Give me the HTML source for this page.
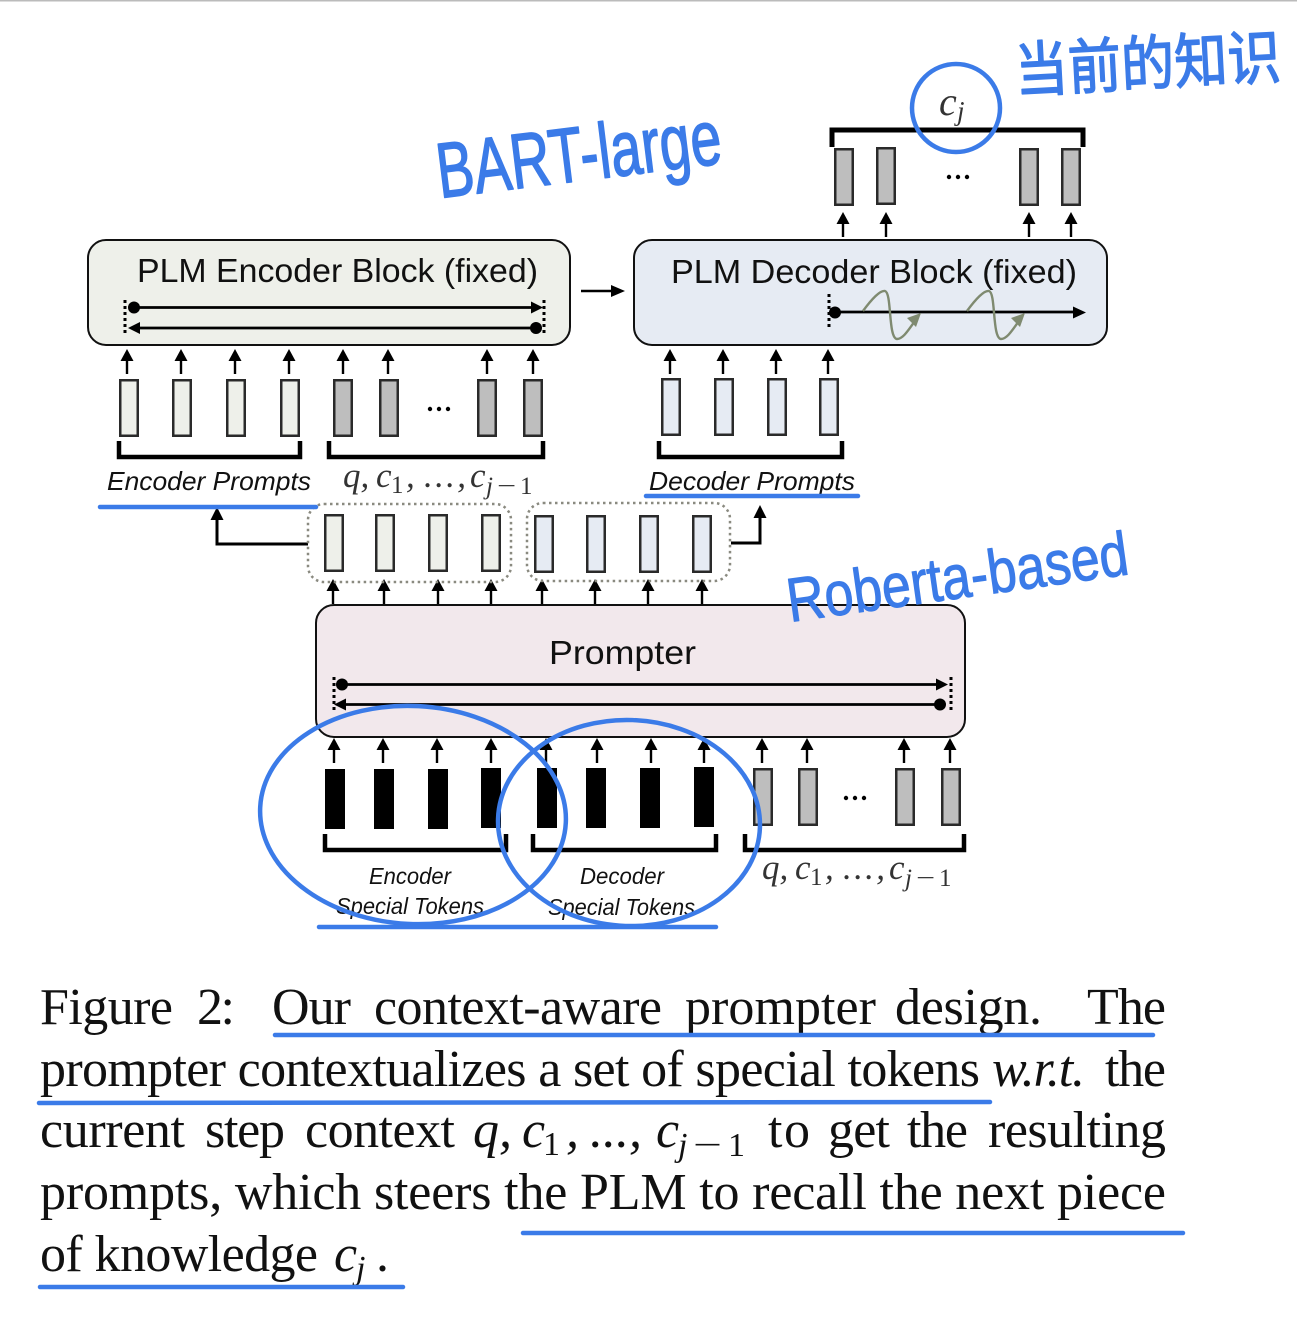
<!DOCTYPE html>
<html><head><meta charset="utf-8"><style>
html,body{margin:0;padding:0;background:#fff}
svg{display:block}
.c{font-family:"Liberation Serif",serif;font-size:52px;fill:#111}
.i{font-style:italic}
.s{font-size:34px}
.m{font-family:"Liberation Serif",serif;font-style:italic;fill:#333;font-size:35px}
.u{font-family:"Liberation Serif",serif;fill:#333;font-size:25px}
.l{font-family:"Liberation Sans",sans-serif;fill:#111}
.h{font-family:"Liberation Sans","WenQuanYi Zen Hei",sans-serif;fill:#3b7be8;stroke:#3b7be8;stroke-linejoin:round}
</style></head><body>
<svg width="1297" height="1322" viewBox="0 0 1297 1322" xmlns="http://www.w3.org/2000/svg">
<defs>
<g id="a"><path d="M0 0V-15" stroke="#000" stroke-width="2.400" fill="none"/><path d="M-6.500 -13L0 -25L6.500 -13Z" fill="#000"/></g>
<rect id="r" x="1.250" y="1.250" width="17.500" height="55.500" stroke="#2a2a2a" stroke-width="2.500"/>
<rect id="k" width="20" height="60" fill="#000"/>
</defs>
<rect width="1297" height="1322" fill="#fff"/>
<rect width="1297" height="1.500" fill="#bbb"/>

<!-- blocks -->
<rect x="88" y="240" width="482" height="105" rx="18" fill="#eef0ea" stroke="#111" stroke-width="2"/>
<rect x="634" y="240" width="473" height="105" rx="18" fill="#e6ebf3" stroke="#111" stroke-width="2"/>
<rect x="316" y="605" width="649" height="132" rx="18" fill="#f2e8ec" stroke="#111" stroke-width="2"/>
<text class="l" x="137" y="282" font-size="33" textLength="401" lengthAdjust="spacingAndGlyphs">PLM Encoder Block (fixed)</text>
<text class="l" x="671" y="283" font-size="33" textLength="406" lengthAdjust="spacingAndGlyphs">PLM Decoder Block (fixed)</text>
<text class="l" x="549" y="664" font-size="33" textLength="147" lengthAdjust="spacingAndGlyphs">Prompter</text>

<!-- inner lines -->
<g stroke="#000" fill="none">
<path d="M125 300V336M544 300V336" stroke-width="3" stroke-dasharray="3 3"/>
<path d="M134 307.500H535M137 328H536" stroke-width="2.800"/>
<path d="M342 684.500H940M345 704.500H940" stroke-width="2.800"/>
<path d="M334 677V712M951 677V712" stroke-width="3" stroke-dasharray="3 3"/>
<path d="M829 294V330" stroke-width="3" stroke-dasharray="3 3"/>
<path d="M835 312H1075" stroke-width="2.800"/>
<path d="M581 291H612" stroke-width="2.600"/>
<path d="M308 544H217V518M731 543H760V516" stroke-width="3"/>
</g>
<g fill="#000">
<circle cx="134" cy="307.500" r="6"/><circle cx="536" cy="328" r="6"/>
<path d="M543 307.500L531 301.500V313.500ZM128 328L140 322V334Z"/>
<circle cx="342" cy="684.500" r="6"/><circle cx="940" cy="704.500" r="6"/>
<path d="M948 684.500L936 678.500V690.500ZM334 704.500L346 698.500V710.500Z"/>
<circle cx="835" cy="312.500" r="6"/>
<path d="M1086 312.500L1073 306.500V318.500ZM625 291L611 285V297ZM217 507L210.500 520H223.500ZM760 505L753.500 518H766.500Z"/>
</g>
<g fill="none" stroke="#7f8a70" stroke-width="2.400">
<path d="M863 311C871 300 880 290 885 291C892 293 888 338 897 339C904 339 910 327 918 317"/>
<path d="M967 311C975 300 984 290 989 291C996 293 992 338 1001 339C1008 339 1014 327 1022 317"/>
</g>
<path fill="#7f8a70" d="M921 313L907 318L916 327ZM1025 313L1011 318L1020 327Z"/>

<!-- arrows -->
<g>
<use href="#a" x="843" y="237"/><use href="#a" x="886" y="237"/><use href="#a" x="1029" y="237"/><use href="#a" x="1071" y="237"/>
<use href="#a" x="127" y="374"/><use href="#a" x="181" y="374"/><use href="#a" x="235" y="374"/><use href="#a" x="289" y="374"/><use href="#a" x="343" y="374"/><use href="#a" x="388" y="374"/><use href="#a" x="487" y="374"/><use href="#a" x="533" y="374"/>
<use href="#a" x="670" y="374"/><use href="#a" x="723" y="374"/><use href="#a" x="776" y="374"/><use href="#a" x="828" y="374"/>
<use href="#a" x="333" y="604"/><use href="#a" x="384" y="604"/><use href="#a" x="438" y="604"/><use href="#a" x="491" y="604"/><use href="#a" x="542" y="604"/><use href="#a" x="595" y="604"/><use href="#a" x="648" y="604"/><use href="#a" x="702" y="604"/>
<use href="#a" x="334" y="763"/><use href="#a" x="383" y="763"/><use href="#a" x="437" y="763"/><use href="#a" x="491" y="763"/><use href="#a" x="546" y="763"/><use href="#a" x="597" y="763"/><use href="#a" x="651" y="763"/><use href="#a" x="704" y="763"/><use href="#a" x="762" y="763"/><use href="#a" x="807" y="763"/><use href="#a" x="904" y="763"/><use href="#a" x="950" y="763"/>
</g>

<!-- token bars -->
<g fill="#bebebe">
<use href="#r" x="834" y="148"/><use href="#r" x="876" y="147"/><use href="#r" x="1019" y="148"/><use href="#r" x="1061" y="148"/>
<use href="#r" x="333" y="379"/><use href="#r" x="379" y="379"/><use href="#r" x="477" y="379"/><use href="#r" x="523" y="379"/>
<use href="#r" x="753" y="768"/><use href="#r" x="798" y="768"/><use href="#r" x="895" y="768"/><use href="#r" x="941" y="768"/>
</g>
<g fill="#eef0ea">
<use href="#r" x="119" y="379"/><use href="#r" x="172" y="379"/><use href="#r" x="226" y="379"/><use href="#r" x="280" y="379"/>
<use href="#r" x="324" y="514"/><use href="#r" x="375" y="514"/><use href="#r" x="428" y="514"/><use href="#r" x="481" y="514"/>
</g>
<g fill="#e6ebf3">
<use href="#r" x="661" y="378"/><use href="#r" x="714" y="378"/><use href="#r" x="767" y="378"/><use href="#r" x="819" y="378"/>
<use href="#r" x="534" y="515"/><use href="#r" x="586" y="515"/><use href="#r" x="639" y="515"/><use href="#r" x="692" y="515"/>
</g>
<use href="#k" x="325" y="769"/><use href="#k" x="374" y="769"/><use href="#k" x="428" y="769"/><use href="#k" x="481" y="768"/>
<use href="#k" x="537" y="768"/><use href="#k" x="586" y="768"/><use href="#k" x="640" y="768"/><use href="#k" x="694" y="767"/>

<!-- dotted groups -->
<g fill="none" stroke="#8a8a80" stroke-width="2.500" stroke-dasharray="2.500 3.500">
<rect x="308" y="504" width="203" height="78" rx="16"/>
<rect x="527" y="503" width="203" height="78" rx="16"/>
</g>

<!-- brackets -->
<g fill="none" stroke="#000" stroke-width="4.500">
<path d="M832 147V130H1083V147" stroke-width="5"/>
<path d="M119 441V457H300V441M329 441V457H543V441M659 441V457H842V441"/>
<path d="M325 834V850H506V834M533 834V850H716V834M745 834V850H964V834"/>
</g>
<g fill="#000">
<circle cx="949" cy="177" r="2.200"/><circle cx="958" cy="177" r="2.200"/><circle cx="967" cy="177" r="2.200"/>
<circle cx="430" cy="409" r="2.200"/><circle cx="439" cy="409" r="2.200"/><circle cx="448" cy="409" r="2.200"/>
<circle cx="846" cy="798" r="2.200"/><circle cx="855" cy="798" r="2.200"/><circle cx="864" cy="798" r="2.200"/>
</g>

<!-- figure labels -->
<text class="l" font-style="italic" font-size="26" x="107" y="490" textLength="204" lengthAdjust="spacingAndGlyphs">Encoder Prompts</text>
<text class="l" font-style="italic" font-size="26" x="649" y="490" textLength="206" lengthAdjust="spacingAndGlyphs">Decoder Prompts</text>
<text class="l" font-style="italic" font-size="23" x="369" y="884" textLength="82" lengthAdjust="spacingAndGlyphs">Encoder</text>
<text class="l" font-style="italic" font-size="23" x="336" y="914" textLength="148" lengthAdjust="spacingAndGlyphs">Special Tokens</text>
<text class="l" font-style="italic" font-size="23" x="580" y="884" textLength="84" lengthAdjust="spacingAndGlyphs">Decoder</text>
<text class="l" font-style="italic" font-size="23" x="548" y="915" textLength="147" lengthAdjust="spacingAndGlyphs">Special Tokens</text>

<text class="m" x="343" y="487">q,</text><text class="m" x="376" y="487">c</text><text class="u" x="391" y="493">1</text><text class="m" x="406" y="487">,</text><text class="m" x="424" y="487" textLength="42" lengthAdjust="spacing">...,</text><text class="m" x="470" y="487">c</text><text class="u i" x="486" y="494">j</text><text class="u" x="497" y="494" textLength="19" lengthAdjust="spacingAndGlyphs">−</text><text class="u" x="520" y="494">1</text>
<text class="m" x="762" y="879">q,</text><text class="m" x="795" y="879">c</text><text class="u" x="810" y="885">1</text><text class="m" x="825" y="879">,</text><text class="m" x="843" y="879" textLength="42" lengthAdjust="spacing">...,</text><text class="m" x="889" y="879">c</text><text class="u i" x="905" y="886">j</text><text class="u" x="916" y="886" textLength="19" lengthAdjust="spacingAndGlyphs">−</text><text class="u" x="939" y="886">1</text>
<text class="m" x="939" y="115" style="font-size:40px">c</text><text class="u i" x="957" y="120" style="font-size:27px">j</text>

<!-- caption -->
<text class="c" x="40" y="1024" textLength="133" lengthAdjust="spacing">Figure</text>
<text class="c" x="197" y="1024" textLength="38" lengthAdjust="spacing">2:</text>
<text class="c" x="272" y="1024" textLength="79" lengthAdjust="spacing">Our</text>
<text class="c" x="374" y="1024" textLength="288" lengthAdjust="spacing">context-aware</text>
<text class="c" x="685" y="1024" textLength="191" lengthAdjust="spacing">prompter</text>
<text class="c" x="895" y="1024" textLength="147" lengthAdjust="spacing">design.</text>
<text class="c" x="1087" y="1024" textLength="79" lengthAdjust="spacing">The</text>
<text class="c" x="40" y="1086" textLength="940" lengthAdjust="spacing">prompter contextualizes a set of special tokens</text>
<text class="c i" x="992" y="1086" textLength="93" lengthAdjust="spacing">w.r.t.</text>
<text class="c" x="1105" y="1086" textLength="61" lengthAdjust="spacing">the</text>
<text class="c" x="40" y="1147" textLength="145" lengthAdjust="spacing">current</text>
<text class="c" x="205" y="1147" textLength="80" lengthAdjust="spacing">step</text>
<text class="c" x="305" y="1147" textLength="150" lengthAdjust="spacing">context</text>
<text class="c i" x="473" y="1147">q,</text><text class="c i" x="522" y="1147">c</text><text class="c s" x="543" y="1155">1</text><text class="c i" x="566" y="1147">,</text><text class="c i" x="590" y="1147" textLength="52" lengthAdjust="spacing">...,</text><text class="c i" x="656" y="1147">c</text><text class="c i s" x="678" y="1156">j</text><text class="c s" x="693" y="1156" textLength="29" lengthAdjust="spacingAndGlyphs">−</text><text class="c s" x="728" y="1156">1</text>
<text class="c" x="768" y="1147" textLength="42" lengthAdjust="spacing">to</text>
<text class="c" x="828" y="1147" textLength="62" lengthAdjust="spacing">get</text>
<text class="c" x="907" y="1147" textLength="61" lengthAdjust="spacing">the</text>
<text class="c" x="988" y="1147" textLength="178" lengthAdjust="spacing">resulting</text>
<text class="c" x="40" y="1209" textLength="1126" lengthAdjust="spacing">prompts, which steers the PLM to recall the next piece</text>
<text class="c" x="40" y="1271" textLength="278" lengthAdjust="spacing">of knowledge</text>
<text class="c i" x="334" y="1271">c</text><text class="c i s" x="356" y="1279">j</text><text class="c" x="376" y="1271">.</text>

<!-- blue annotations -->
<g fill="none" stroke="#3b7be8" stroke-width="4.500" stroke-linecap="round">
<circle cx="956" cy="108" r="44"/>
<ellipse cx="413" cy="815" rx="153" ry="109" transform="rotate(3 413 815)"/>
<ellipse cx="629" cy="823" rx="131" ry="103" transform="rotate(2 629 823)"/>
<path d="M100 507H316M646 496H858M319 927H716M275 1035H1153M39 1103L990 1102M523 1233H1183M40 1287H403"/>
</g>
<text class="h" transform="translate(440 198) rotate(-7)" font-size="78" stroke-width="1.500" textLength="286" lengthAdjust="spacingAndGlyphs">BART-large</text>
<text class="h" transform="translate(790 622) rotate(-8)" font-size="62" stroke-width="1" textLength="344" lengthAdjust="spacingAndGlyphs">Roberta-based</text>
<text class="h" transform="translate(1016 92) rotate(-3)" font-size="60" stroke-width="1.500" textLength="266" lengthAdjust="spacingAndGlyphs" style="font-family:'WenQuanYi Zen Hei','Noto Sans CJK SC',sans-serif">当前的知识</text>
</svg>
</body></html>
